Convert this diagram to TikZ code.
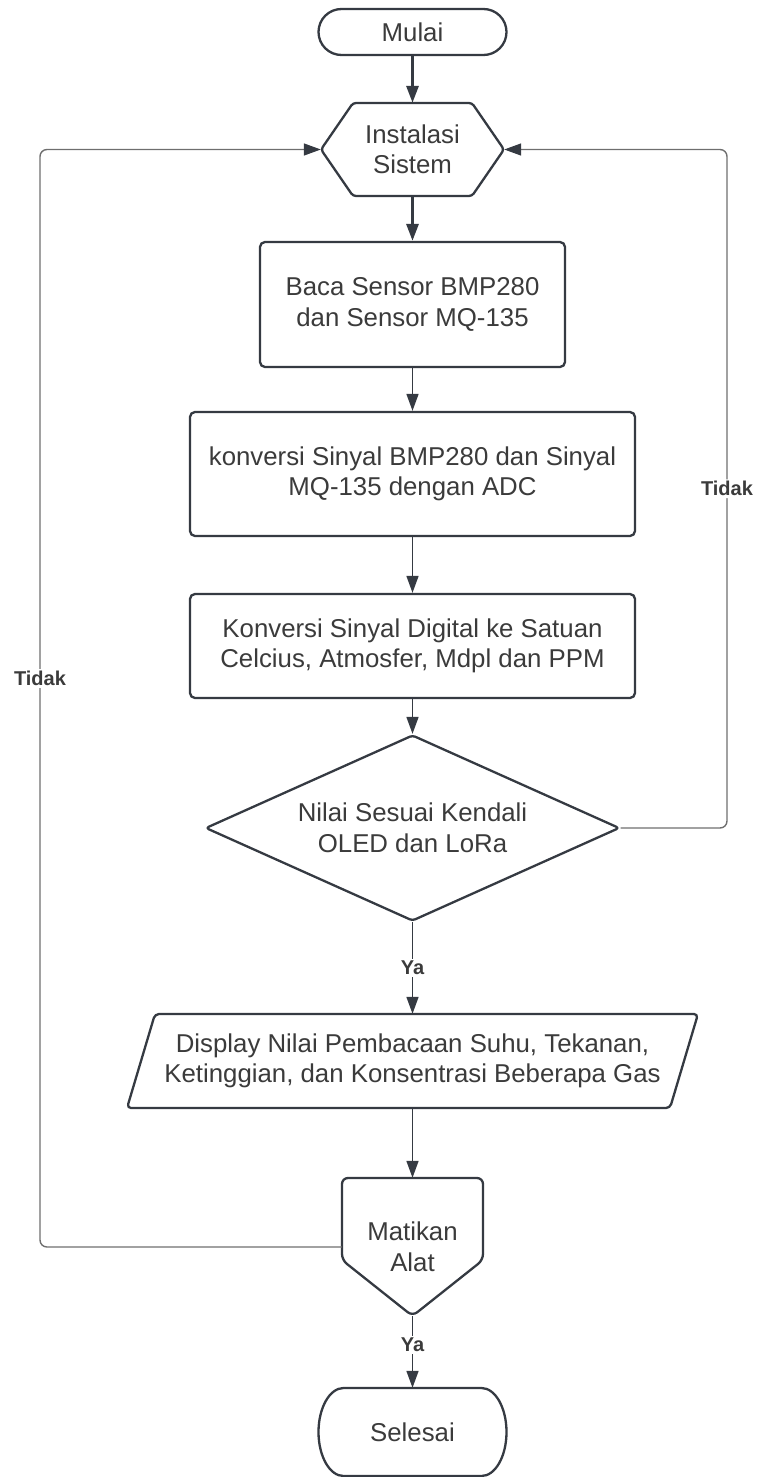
\documentclass[tikz,border=0pt]{standalone}
\usepackage{fontspec}
\setmainfont{Liberation Sans}
\usetikzlibrary{arrows.meta,shapes.geometric}
\definecolor{lc}{HTML}{353A42}
\definecolor{tc}{HTML}{3B3B3B}
\definecolor{gl}{HTML}{6E6E6E}
\tikzset{
  shapeline/.style={draw=lc, line width=2.3pt, fill=white, line join=round},
  txt/.style={font=\fontsize{25.8}{30.5}\selectfont, text=tc, align=center, inner sep=0pt},
  holder/.style={txt, draw=none},
  boxnode/.style={txt, shapeline, rounded corners=5pt},
  flow/.style={draw=lc, line width=1.6pt, -{Triangle[length=17pt,width=12pt]}},
  thickflow/.style={flow, line width=3pt},
  loopline/.style={draw=gl, line width=1.4pt, rounded corners=7pt, -{Triangle[length=17pt,width=12pt,color=lc]}},
  lbl/.style={font=\fontsize{20}{23}\selectfont\bfseries, text=tc, fill=white, inner sep=2pt}
}
\begin{document}
\begin{tikzpicture}[x=1pt,y=-1pt]
\useasboundingbox (0,0) rectangle (758,1477);

% Mulai
\node[txt, shapeline, rounded corners=23pt, minimum width=188pt, minimum height=46pt] (mulai) at (412.5,32) {Mulai};

% Instalasi Sistem (hexagon)
\draw[shapeline, rounded corners=3pt] (321,149.5) -- (353,103) -- (472,103) -- (504,149.5) -- (472,196) -- (353,196) -- cycle;
\node[holder, minimum width=183pt, minimum height=93pt] (inst) at (412.5,149.5) {Instalasi\\Sistem};

% Boxes
\node[boxnode, minimum width=305pt, minimum height=125pt] (baca) at (412.5,304.5) {Baca Sensor BMP280\\dan Sensor MQ-135};
\node[boxnode, minimum width=445pt, minimum height=124pt] (konv1) at (412.5,474) {konversi Sinyal BMP280 dan Sinyal\\MQ-135 dengan ADC};
\node[boxnode, minimum width=445pt, minimum height=104pt] (konv2) at (412.5,646) {Konversi Sinyal Digital ke Satuan\\Celcius, Atmosfer, Mdpl dan PPM};

% Decision
\node[txt, shapeline, shape=diamond, aspect=2.23, rounded corners=3pt, minimum width=414pt, minimum height=186pt] (dec) at (412.5,828) {Nilai Sesuai Kendali\\OLED dan LoRa};

% Display (parallelogram)
\draw[shapeline, rounded corners=4pt] (155,1014) -- (698,1014) -- (670,1108) -- (127,1108) -- cycle;
\node[holder, minimum width=543pt, minimum height=94pt] (disp) at (412.5,1061) {Display Nilai Pembacaan Suhu, Tekanan,\\Ketinggian, dan Konsentrasi Beberapa Gas};

% Matikan Alat (off-page connector)
\draw[shapeline, rounded corners=6pt] (342,1230) -- (342,1178) -- (483,1178) -- (483,1260) -- (412.5,1316) -- (342,1260) -- cycle;
\node[holder, minimum width=141pt, minimum height=138pt] (mat) at (412.5,1247) {Matikan\\Alat};

% Selesai (terminator with elliptic ends)
\draw[shapeline] (343.5,1388) -- (481.5,1388)
  .. controls (495.3,1388) and (506.5,1407.7) .. (506.5,1432)
  .. controls (506.5,1456.3) and (495.3,1476) .. (481.5,1476)
  -- (343.5,1476)
  .. controls (329.7,1476) and (318.5,1456.3) .. (318.5,1432)
  .. controls (318.5,1407.7) and (329.7,1388) .. cycle;
\node[holder, minimum width=188pt, minimum height=88pt] (sel) at (412.5,1432) {Selesai};

% loop corner coordinates
\coordinate (rloop) at (727,0);
\coordinate (lloop) at (40,0);

% Connectors
\draw[thickflow] (mulai) -- (inst);
\draw[thickflow] (inst) -- (baca);
\draw[flow] (baca) -- (konv1);
\draw[flow] (konv1) -- (konv2);
\draw[flow] (konv2) -- (dec);
\draw[flow] (dec) -- node[lbl] {Ya} (disp);
\draw[flow] (disp) -- (mat);
\draw[flow] (mat) -- node[lbl, pos=0.4] {Ya} (sel);

\draw[loopline] (dec.east) -- (dec.east -| rloop) -- node[lbl, pos=0.5] {Tidak} (inst.east -| rloop) -- (inst.east);
\draw[loopline] (mat.west) -- (mat.west -| lloop) -- node[lbl, pos=0.518] {Tidak} (inst.west -| lloop) -- (inst.west);
\end{tikzpicture}
\end{document}
